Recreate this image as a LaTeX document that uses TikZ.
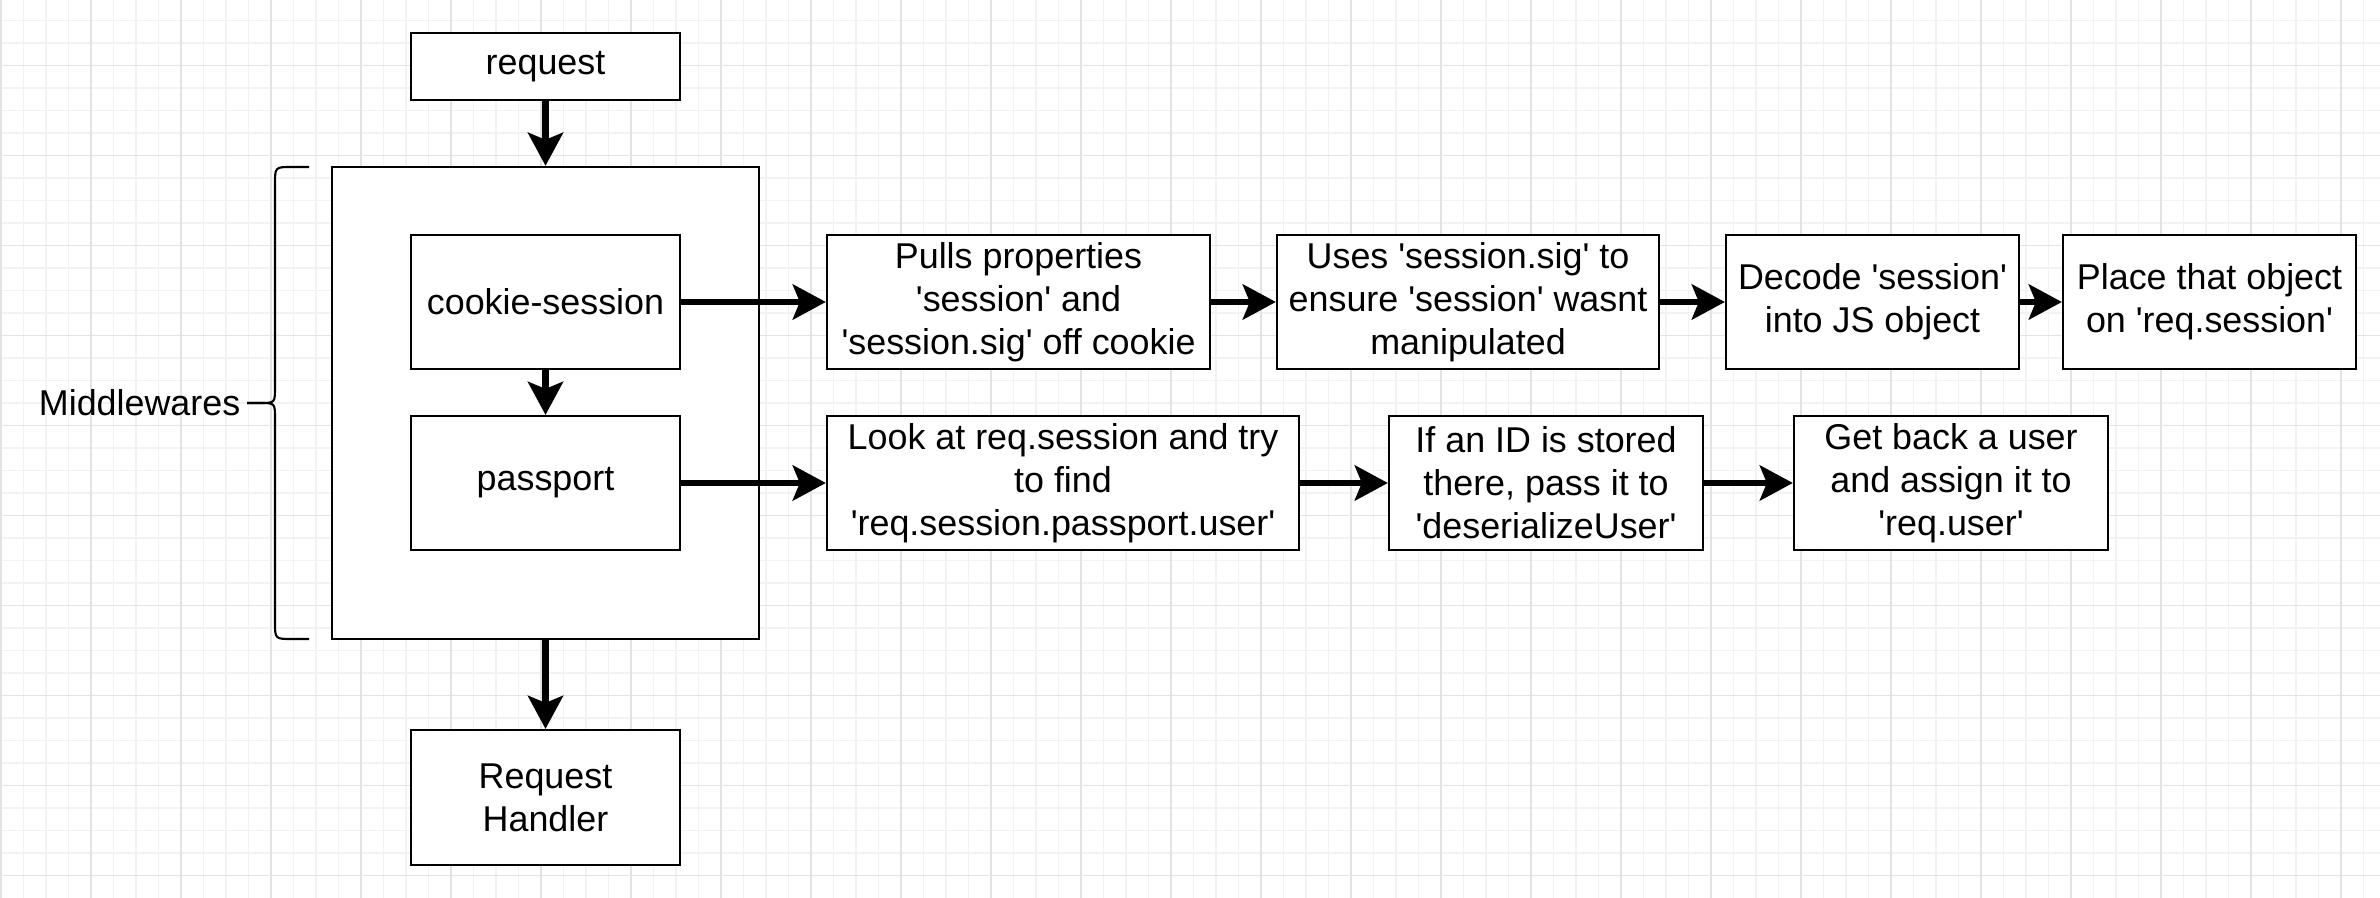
\documentclass[tikz,border=0pt]{standalone}
\usepackage{fontspec}
\setmainfont{Liberation Sans}
\usetikzlibrary{arrows.meta, positioning}
\definecolor{gridminor}{HTML}{F2F2F2}
\definecolor{gridmajor}{HTML}{E3E3E3}
\newcommand{\quoted}[1]{\textquotesingle#1\textquotesingle}

\tikzset{
	box/.style={draw, line width=0.6pt, fill=white, inner sep=0pt, align=center,
		font=\fontsize{10.2}{12.2}\selectfont},
	flow/.style={line width=1.8pt, -{Stealth[length=0.33cm, width=0.35cm, inset=0.07cm]}},
	thinline/.style={line width=0.6pt},
}

\begin{document}
\begin{tikzpicture}[x=0.01cm, y=-0.01cm]
	% Background grid
	\fill[white] (0,0) rectangle (2380,898);
	\useasboundingbox (0,0) rectangle (2380,898);
	\foreach \gx in {1,23.5,...,2380} \draw[gridminor, line width=0.4pt] (\gx,0) -- (\gx,898);
	\foreach \gy in {-1.8,20.7,...,898} \draw[gridminor, line width=0.4pt] (0,\gy) -- (2380,\gy);
	\foreach \gx in {1,91,...,2380} \draw[gridmajor, line width=0.45pt] (\gx,0) -- (\gx,898);
	\foreach \gy in {65.7,155.7,...,898} \draw[gridmajor, line width=0.45pt] (0,\gy) -- (2380,\gy);
	% Main column
	\node[box, minimum width=2.69cm, minimum height=0.67cm] (request) at (545.5,66.5) {request};
	\node[box, minimum width=4.27cm, minimum height=4.72cm] (middle) at (545.5,403) {};
	\node[box, minimum width=2.69cm, minimum height=1.34cm] (cookie) at (545.5,302) {cookie-session};
	\node[box, minimum width=2.69cm, minimum height=1.34cm] (passport) at (545.5,483) {passport};
	\node[box, minimum width=2.69cm, minimum height=1.35cm] (handler) at (545.5,797.5) {Request\\Handler};
	% Brace
	\node[anchor=east, inner sep=0pt, font=\fontsize{10.2}{12.2}\selectfont] (midlabel) at (241,403) {Middlewares};
	\draw[thinline] (309,167) -- (292,167) .. controls (275,167) .. (275,184) -- (275,387)
		.. controls (275,403) .. (260,403) -- (247,403);
	\draw[thinline] (247,403) -- (260,403) .. controls (275,403) .. (275,419) -- (275,622)
		.. controls (275,639) .. (292,639) -- (309,639);
	% cookie-session steps
	\node[box, minimum width=3.83cm, minimum height=1.34cm] (pulls) at (1018.5,302)
		{Pulls properties\\\quoted{session} and\\\quoted{session.sig} off cookie};
	\node[box, minimum width=3.82cm, minimum height=1.34cm] (verify) at (1468,302)
		{Uses \quoted{session.sig} to\\ensure \quoted{session} wasnt\\manipulated};
	\node[box, minimum width=2.93cm, minimum height=1.34cm] (decode) at (1872.5,302)
		{Decode \quoted{session}\\into JS object};
	\node[box, minimum width=2.93cm, minimum height=1.34cm] (place) at (2209.5,302)
		{Place that object\\on \quoted{req.session}};
	% passport steps
	\node[box, minimum width=4.72cm, minimum height=1.34cm] (lookup) at (1063,483)
		{Look at req.session and try\\to find\\\quoted{req.session.passport.user}};
	\node[box, minimum width=3.14cm, minimum height=1.34cm] (deser) at (1546,483)
		{If an ID is stored\\there, pass it to\\\quoted{deserializeUser}};
	\node[box, minimum width=3.14cm, minimum height=1.34cm] (getuser) at (1951,483)
		{Get back a user\\and assign it to\\\quoted{req.user}};
	% Arrows
	\draw[flow] (request) -- (middle);
	\draw[flow] (middle) -- (handler);
	\draw[flow] (cookie) -- (passport);
	\draw[flow] (cookie) -- (pulls);
	\draw[flow] (pulls) -- (verify);
	\draw[flow] (verify) -- (decode);
	\draw[flow] (decode) -- (place);
	\draw[flow] (passport) -- (lookup);
	\draw[flow] (lookup) -- (deser);
	\draw[flow] (deser) -- (getuser);
\end{tikzpicture}
\end{document}
